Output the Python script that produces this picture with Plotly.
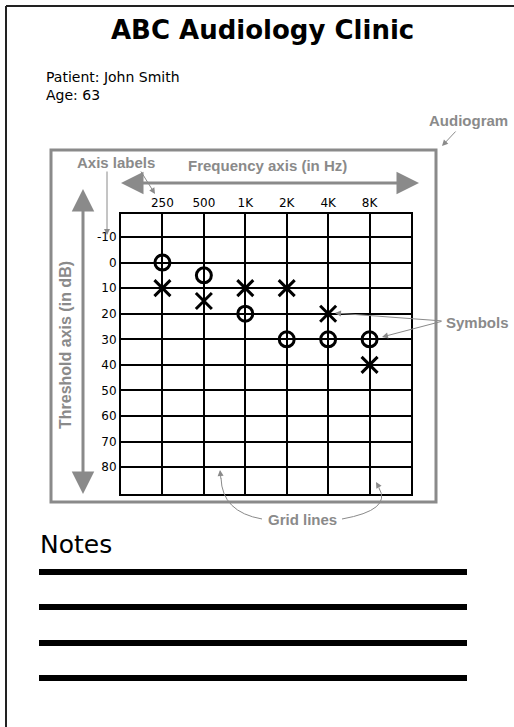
import plotly.graph_objects as go

W, H = 514, 727

# audiogram data
freq_labels = ["250", "500", "1K", "2K", "4K", "8K"]
freq_idx = [0, 1, 2, 3, 4, 5]
right_ear_db = [0, 5, 20, 30, 30, 30]   # O symbols
left_ear_db = [10, 15, 10, 10, 20, 40]  # X symbols
db_ticks = [-10, 0, 10, 20, 30, 40, 50, 60, 70, 80]

GRAY = "#8a8a8a"
NOTE_FONT = dict(family="Liberation Sans, Arial", size=15, color=GRAY, weight="bold")


def px(x, y):
    """ pixel position on the page -> paper coords """
    return x / W, 1 - y / H


def arrow(head, tail, width=1, size=1.0, head_style=2):
    hx, hy = px(*head)
    return dict(x=hx, y=hy, xref="paper", yref="paper", text="", showarrow=True,
                ax=tail[0] - head[0], ay=tail[1] - head[1],
                arrowhead=head_style, arrowwidth=width, arrowsize=size, arrowcolor=GRAY)


def label(text, x, y, font, xanchor="center", yanchor="middle", angle=0, align="center"):
    lx, ly = px(x, y)
    return dict(x=lx, y=ly, xref="paper", yref="paper", text=text, showarrow=False,
                font=font, xanchor=xanchor, yanchor=yanchor, textangle=angle, align=align)


fig = go.Figure()
fig.add_trace(go.Scatter(
    x=freq_idx, y=right_ear_db, mode="markers", name="Right ear",
    marker=dict(symbol="circle-open", size=15, color="black", line=dict(width=3, color="black")),
))
fig.add_trace(go.Scatter(
    x=freq_idx, y=left_ear_db, mode="markers", name="Left ear",
    marker=dict(symbol="x-thin-open", size=16, color="black", line=dict(width=3, color="black")),
))

axis_common = dict(showgrid=True, gridcolor="black", gridwidth=2, zeroline=False,
                   showline=True, linecolor="black", linewidth=2, mirror=True,
                   ticks="", tickfont=dict(family="DejaVu Sans", size=12, color="black"))

fig.update_xaxes(range=[-1, 6], tickvals=freq_idx, ticktext=freq_labels, side="top",
                 domain=[121 / W, 411 / W], fixedrange=True, **axis_common)
fig.update_yaxes(range=[90.5, -19], tickvals=db_ticks, ticktext=[str(v) for v in db_ticks],
                 domain=[1 - 494 / H, 1 - 214 / H], fixedrange=True, **axis_common)

shapes = []
# page border (only top and left visible)
x0, y0 = px(6, 6)
shapes.append(dict(type="line", xref="paper", yref="paper", x0=x0, y0=y0, x1=1.0, y1=y0,
                   line=dict(color="#222", width=2)))
shapes.append(dict(type="line", xref="paper", yref="paper", x0=x0, y0=y0, x1=x0, y1=0.0,
                   line=dict(color="#222", width=2)))
# audiogram frame
fx0, fy0 = px(51, 150)
fx1, fy1 = px(436, 502)
shapes.append(dict(type="rect", xref="paper", yref="paper", x0=fx0, y0=fy0, x1=fx1, y1=fy1,
                   line=dict(color=GRAY, width=3)))
# frequency / threshold axis shafts
a, b = px(130, 183)
c, d = px(410, 183)
shapes.append(dict(type="line", xref="paper", yref="paper", x0=a, y0=b, x1=c, y1=d,
                   line=dict(color=GRAY, width=3)))
a, b = px(83, 198)
c, d = px(83, 485)
shapes.append(dict(type="line", xref="paper", yref="paper", x0=a, y0=b, x1=c, y1=d,
                   line=dict(color=GRAY, width=3)))


def curve(p0, ctrl, p1):
    (x0, y0), (cx, cy), (x1, y1) = px(*p0), px(*ctrl), px(*p1)
    return dict(type="path", xref="paper", yref="paper",
                path=f"M {x0},{y0} Q {cx},{cy} {x1},{y1}", line=dict(color=GRAY, width=1))


# curved leaders for "Grid lines"
shapes.append(curve((262, 519), (222, 512), (221, 478)))
shapes.append(curve((342, 519), (392, 510), (379, 488)))

# notes lines
for ny in [572, 607, 643, 678]:
    lx0, ly = px(39, ny)
    lx1, _ = px(467, ny)
    shapes.append(dict(type="line", xref="paper", yref="paper", x0=lx0, y0=ly, x1=lx1, y1=ly,
                       line=dict(color="black", width=6)))

annotations = [
    label("ABC Audiology Clinic", 262, 30,
          dict(family="DejaVu Sans", size=26, color="black", weight="bold")),
    label("Patient: John Smith<br>Age: 63", 44, 86,
          dict(family="DejaVu Sans", size=14, color="black"), xanchor="left", align="left"),
    label("Audiogram", 468, 120, NOTE_FONT),
    label("Axis labels", 116, 162, NOTE_FONT),
    label("Frequency axis (in Hz)", 267, 166, NOTE_FONT),
    label("Threshold axis (in dB)", 65, 345, dict(NOTE_FONT, size=16), angle=-90),
    label("Symbols", 477, 322, NOTE_FONT),
    label("Grid lines", 302, 519, NOTE_FONT),
    label("Notes", 38, 544, dict(family="DejaVu Sans", size=25, color="black"), xanchor="left"),
    # arrows
    arrow((442, 146), (457, 130), width=1, size=1.2),
    arrow((107, 235), (107, 170), width=1, size=1.2),
    arrow((155, 194), (140, 170), width=1, size=1.2),
    arrow((121, 183), (140, 183), width=3, size=1.5),
    arrow((419, 183), (400, 183), width=3, size=1.5),
    arrow((83, 189), (83, 210), width=3, size=1.5),
    arrow((83, 494), (83, 473), width=3, size=1.5),
    arrow((335, 313), (443, 321), width=1, size=1.2),
    arrow((382, 337), (443, 321), width=1, size=1.2),
    arrow((220, 470), (221, 480), width=1, size=1.2),
    arrow((376, 482), (380, 489), width=1, size=1.2),
]

fig.update_layout(
    width=W, height=H, autosize=False,
    margin=dict(l=0, r=0, t=0, b=0),
    paper_bgcolor="white", plot_bgcolor="white",
    showlegend=False,
    shapes=shapes, annotations=annotations,
)

fig.write_html(
    "out.html", config={"displayModeBar": False},
    post_script="document.body.style.margin='0';document.body.style.overflow='hidden';"
                "document.documentElement.style.overflow='hidden';",
)
